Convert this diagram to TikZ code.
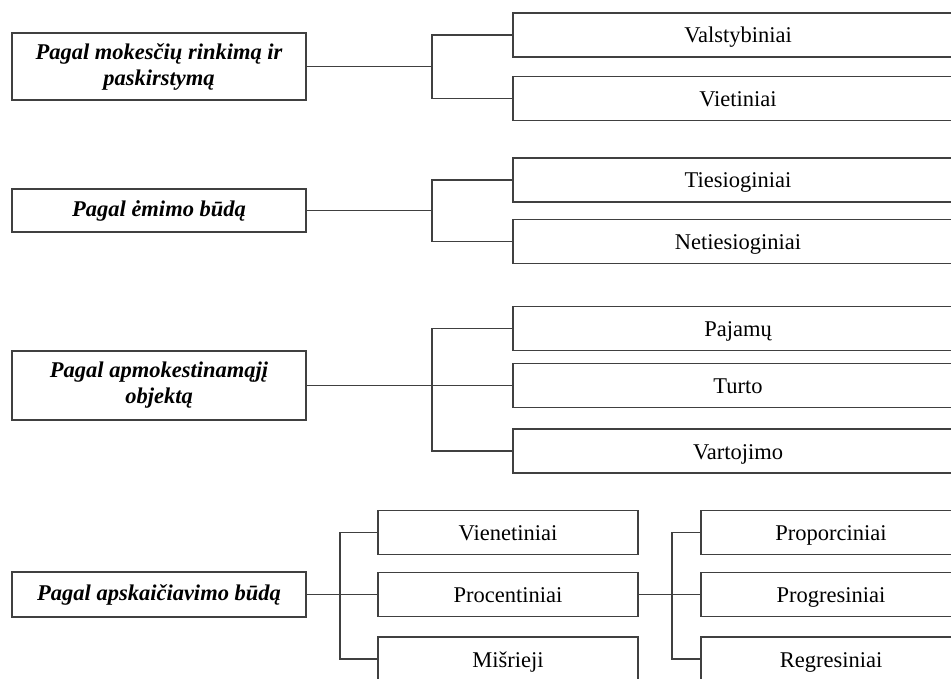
\documentclass[tikz,border=0pt]{standalone}
\usepackage{fontspec}
\setmainfont{Liberation Serif}
\usetikzlibrary{positioning}
\tikzset{
x=1pt, y=-1pt, % one unit per pixel, y grows downwards
every node/.style={font=\fontsize{22.5}{26}\selectfont},
box/.style={draw=black!75, line width=1.6pt, inner sep=0pt, align=center, fill=white}, % every framed box
group/.style={box, minimum width=294pt, font=\fontsize{22.5}{26}\selectfont\bfseries\itshape}, % left column
kind/.style={box, minimum width=450pt, minimum height=44pt, text height=19pt, text depth=3pt}, % wide boxes on the right
sub/.style={kind, minimum width=260pt}, % narrow boxes of the last group
link/.style={draw=black!75, line width=1.6pt}, % fork lines
}

\begin{document}
\begin{tikzpicture}
            \useasboundingbox (0,0) rectangle (951,679);
            \clip (0,0) rectangle (951,679);
            % left column
            \node[group, minimum height=67pt] (rink) at (159,66.5) {Pagal mokesčių rinkimą ir\\paskirstymą};
            \node[group, minimum height=43pt] (emim) at (159,210.5) {Pagal ėmimo būdą};
            \node[group, minimum height=69pt] (obj) at (159,385.5) {Pagal apmokestinamąjį\\objektą};
            \node[group, minimum height=45pt] (apsk) at (159,594.5) {Pagal apskaičiavimo būdą};
            % right column
            \node[kind] (valst) at (738,35) {Valstybiniai};
            \node[kind] (viet) at (738,98.5) {Vietiniai};
            \node[kind] (ties) at (738,180) {Tiesioginiai};
            \node[kind] (neties) at (738,241.5) {Netiesioginiai};
            \node[kind] (paj) at (738,328.5) {Pajamų};
            \node[kind] (turt) at (738,385.5) {Turto};
            \node[kind] (vart) at (738,451) {Vartojimo};
            \node[sub] (vien) at (508,532.5) {Vienetiniai};
            \node[sub] (proc) at (508,594.5) {Procentiniai};
            \node[sub] (misr) at (508,659) {Mišrieji};
            \node[sub] (propr) at (831,532.5) {Proporciniai};
            \node[sub] (progr) at (831,594.5) {Progresiniai};
            \node[sub] (regr) at (831,659) {Regresiniai};
            % forks
            \coordinate (f1) at (432,66.5);
            \coordinate (f2) at (432,210.5);
            \coordinate (f3) at (432,385.5);
            \coordinate (f4) at (340,594.5);
            \coordinate (f5) at (672,594.5);
            \draw[link]
                (rink) -- (f1) (valst.west) -| (f1) |- (viet.west)
                (emim) -- (f2) (ties.west) -| (f2) |- (neties.west)
                (obj) -- (f3) (paj.west) -| (f3) |- (vart.west) (f3) -- (turt.west)
                (apsk) -- (f4) (vien.west) -| (f4) |- (misr.west) (f4) -- (proc.west)
                (proc) -- (f5) (propr.west) -| (f5) |- (regr.west) (f5) -- (progr.west)
                ;
            \end{tikzpicture}
\end{document}
